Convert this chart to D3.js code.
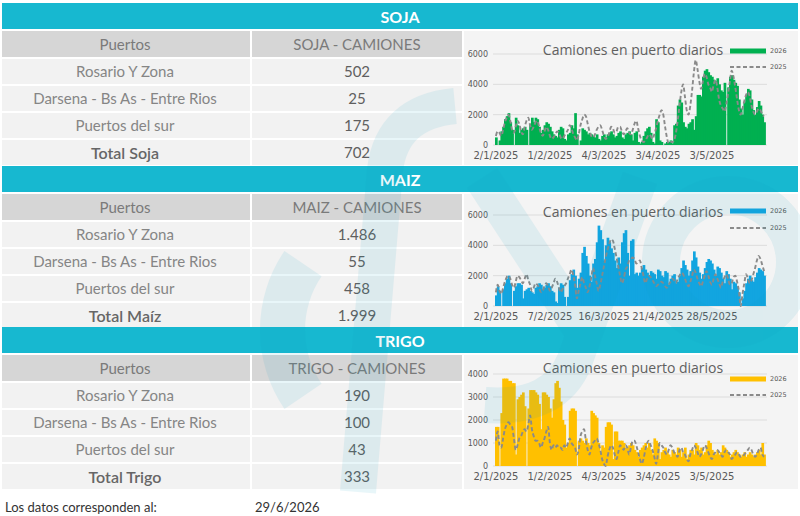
<!DOCTYPE html>
<html lang="es">
<head>
<meta charset="UTF-8">
<title>Camiones en puerto</title>
<script src="https://cdn.jsdelivr.net/npm/d3@7"></script>
<style>
  body { margin: 0; background: #fff; }
  .tbl { font-family: Lato, "Open Sans", sans-serif; }
  .axis text { font-family: "DejaVu Sans", sans-serif; fill: #595959; }
  .axis path, .axis line { display: none; }
</style>
</head>
<body>
<svg id="chart" width="800" height="516"></svg>
<script>
// ---- table data ----
const puertos = ["Rosario Y Zona", "Darsena - Bs As - Entre Rios", "Puertos del sur"];
const sojaCamiones = ["502", "25", "175"];
const maizCamiones = ["1.486", "55", "458"];
const trigoCamiones = ["190", "100", "43"];
const totales = ["702", "1.999", "333"];

// ---- axis tick labels (one every 30 categories) ----
const tickIdx = [0, 30, 60, 90, 120];
const sojaFechas = ["2/1/2025", "1/2/2025", "4/3/2025", "3/4/2025", "3/5/2025"];
const maizFechas = ["2/1/2025", "7/2/2025", "16/3/2025", "21/4/2025", "28/5/2025"];
const trigoFechas = ["2/1/2025", "1/2/2025", "4/3/2025", "3/4/2025", "3/5/2025"];

// ---- daily trucks ----
const soja2026 = [
  500,0,300,900,1200,1700,1900,2100,1500,1000,
  0,1800,1300,800,1000,1100,1200,1000,0,1400,
  1800,1500,1800,1700,1200,800,1000,1300,1500,1400,
  1200,900,700,600,500,1000,1200,1100,400,300,
  700,800,1300,1100,2100,700,0,300,1100,1000,
  900,700,800,700,600,500,700,400,300,600,
  700,500,700,800,900,700,500,600,800,900,
  500,400,700,800,900,700,300,800,900,200,
  100,200,600,900,1100,1200,800,200,100,1700,
  1500,300,200,0,100,200,200,300,100,1300,
  1400,2600,3000,2800,1500,1200,1100,1400,1500,1700,
  1000,1900,3300,3300,3200,4500,4900,5000,4800,4600,
  4500,4300,4200,4400,4000,3600,3500,4100,0,3800,
  4500,4600,4300,4100,3900,3000,2400,2000,2800,3300,
  3700,3600,3000,2300,2000,2500,2900,2600,2000,1500
];
const soja2025 = [
  600,900,800,600,1000,1500,1800,2000,1600,1000,
  800,1200,1600,1400,900,700,1200,1600,1800,1300,
  1000,1200,1500,1600,1200,800,600,900,1200,1000,
  600,400,500,700,900,800,500,400,600,800,
  1000,1300,1100,700,500,300,700,1300,1700,2000,
  1900,1400,900,600,500,700,1000,1200,1300,1000,
  600,400,500,800,1200,1100,800,900,1200,1200,
  900,700,900,1100,800,700,1000,1400,1600,1100,
  600,300,200,300,500,700,600,400,700,1100,
  1600,2000,2300,2000,1200,500,100,200,200,300,
  800,1600,2600,3500,4000,3200,2300,2000,2600,3600,
  4800,5600,5000,4200,3700,4200,4700,4500,4000,3800,
  3500,4000,4300,3800,3000,2600,2400,2200,2700,3400,
  4200,4900,4500,3800,3000,2300,2000,2400,2900,3300,
  3500,3200,2600,2200,2000,2200,2400,2300,2000,1900
];
const maiz2026 = [
  700,1300,1000,0,1100,1500,1800,2000,1500,0,
  1000,1300,1500,1500,1400,500,1000,1100,1200,1000,
  900,800,1200,1300,1500,1400,1100,1200,1400,1500,
  1300,1000,900,300,200,1200,1500,1400,600,0,
  600,1700,2100,2400,2000,1200,1800,2200,3500,3900,
  3300,2800,2000,1600,2800,3100,4200,5300,5000,4400,
  3000,4000,4500,4200,3800,3500,3000,2500,3200,2800,
  4200,4800,5000,3500,2000,4300,4400,2100,2200,2000,
  2200,2500,2700,2400,2200,2000,2300,2200,2100,1800,
  2400,2300,2000,1900,2300,2200,1400,1800,2000,2100,
  1500,1600,2000,2500,3000,2700,2400,2000,2300,3000,
  3600,3200,2600,2200,1800,2100,2500,2900,3100,3000,
  2800,2400,2000,2600,2500,2200,1800,1500,2300,2100,
  1800,1100,1600,1500,1300,900,0,500,1000,1500,
  1800,2000,1700,1600,1900,2200,2500,2400,2300,2000
];
const maiz2025 = [
  900,1400,1000,800,1200,1600,1900,2000,1800,1400,
  1200,1600,2000,1900,1700,1500,1800,2100,1700,1400,
  1000,1200,1500,1400,1200,900,1000,1300,1500,1300,
  1000,1200,1500,1800,1600,1200,900,1100,1300,1500,
  1800,2100,2400,2000,1400,500,1000,1500,1900,1500,
  1200,900,1300,1900,2500,2000,1500,1000,1400,2000,
  2600,3200,3700,4100,4400,4300,3800,3200,2600,2000,
  1500,1800,2400,2600,3000,3100,3200,3100,2800,2900,
  3000,2500,2000,1500,1800,2000,1900,1700,1500,1300,
  1400,1500,1600,1500,1300,1200,1400,1600,1800,1700,
  1500,1800,2000,2200,2100,1800,1500,1300,1600,2000,
  2400,2200,1800,1500,1300,1600,2000,2300,2000,1600,
  1400,1800,2100,1800,1500,1200,1600,1900,2100,1800,
  1400,1500,1900,2000,1600,1000,0,800,1500,2100,
  1800,1500,1700,2100,2500,3000,3300,3100,2700,2300
];
const trigo2026 = [
  1700,1700,0,2300,3800,3800,3800,3700,3700,3600,
  3600,500,2900,3000,3100,3200,2600,0,2500,3300,
  3300,3300,3200,3100,2700,1600,3200,3200,3100,3000,
  2500,2100,2900,3600,3700,3400,2800,2000,1800,800,
  1000,2400,2500,2500,2400,0,1100,1200,1100,1000,
  1200,1000,900,2400,2300,2200,2100,1000,600,900,
  800,1700,1900,1900,1800,300,1500,1500,1100,1100,
  1100,1000,800,800,900,1000,900,700,600,400,
  700,800,900,1000,800,1000,700,500,1200,1100,
  1000,300,600,700,800,600,500,400,700,600,
  500,800,700,400,600,800,300,500,700,700,
  500,1000,900,700,800,500,600,900,1100,1000,
  700,600,500,700,500,600,900,800,700,600,
  400,500,600,700,600,500,400,500,600,400,
  500,600,500,400,500,600,700,500,1000,500
];
const trigo2025 = [
  1100,1500,900,800,1200,1600,1800,1900,1800,1700,
  1200,700,900,1200,1300,1500,1600,1500,1800,2200,
  1600,1300,1100,1100,1000,800,1000,1200,1500,1700,
  1000,700,900,800,900,800,800,700,900,800,
  1000,1200,1000,900,800,500,700,1300,1500,1600,
  1100,700,500,800,1000,1100,1200,1000,700,300,
  100,0,400,700,900,800,500,300,600,900,
  800,700,900,800,500,800,1100,1100,900,600,
  300,100,300,700,1000,1100,900,700,400,100,
  500,1000,900,800,600,500,700,900,800,600,
  500,400,700,800,600,500,300,200,500,700,
  900,800,600,400,500,700,900,800,600,400,
  300,500,600,700,600,500,400,600,700,600,
  500,300,400,500,600,500,400,400,500,600,
  700,800,700,500,400,500,700,800,500,400
];

const cyan = "#17b8d0";

const sections = [
  { title: "SOJA", head: "SOJA - CAMIONES", total: "Total Soja", vals: sojaCamiones, tot: totales[0],
    top: 3, color: "#00b050", s26: soja2026, s25: soja2025, fechas: sojaFechas,
    yMax: 6000, yStep: 2000, yBottom: 145, yTop: 54, titleY: 50, leg26: 51, leg25: 67 },
  { title: "MAIZ", head: "MAIZ - CAMIONES", total: "Total Maíz", vals: maizCamiones, tot: totales[1],
    top: 166, color: "#12a5e0", s26: maiz2026, s25: maiz2025, fechas: maizFechas,
    yMax: 6000, yStep: 2000, yBottom: 306, yTop: 215, titleY: 212, leg26: 211, leg25: 228 },
  { title: "TRIGO", head: "TRIGO - CAMIONES", total: "Total Trigo", vals: trigoCamiones, tot: totales[2],
    top: 327, color: "#ffc000", s26: trigo2026, s25: trigo2025, fechas: trigoFechas,
    yMax: 4000, yStep: 1000, yBottom: 466, yTop: 374, titleY: 368, leg26: 379, leg25: 395 }
];

const svg = d3.select("#chart");
svg.append("rect").attr("width", 800).attr("height", 516).attr("fill", "#fff");

sections.forEach(s => {
  const g = svg.append("g");
  const t = s.top;

  // section banner
  g.append("rect").attr("x", 2).attr("y", t).attr("width", 796).attr("height", 26).attr("fill", cyan);
  g.append("text").attr("class", "tbl")
    .attr("x", 400).attr("y", t + 14).attr("dy", "0.35em")
    .attr("text-anchor", "middle").attr("fill", "#fff")
    .attr("font-size", 16).attr("font-weight", "bold")
    .text(s.title);

  // header row
  g.append("rect").attr("x", 2).attr("y", t + 28).attr("width", 248).attr("height", 26).attr("fill", "#d6d6d6");
  g.append("rect").attr("x", 252).attr("y", t + 28).attr("width", 210).attr("height", 26).attr("fill", "#d6d6d6");
  g.append("text").attr("class", "tbl").attr("x", 125).attr("y", t + 42).attr("dy", "0.35em")
    .attr("text-anchor", "middle").attr("fill", "#7a7a7a").attr("font-size", 15).text("Puertos");
  g.append("text").attr("class", "tbl").attr("x", 357).attr("y", t + 42).attr("dy", "0.35em")
    .attr("text-anchor", "middle").attr("fill", "#7a7a7a").attr("font-size", 15).text(s.head);

  // body rows
  const labels = puertos.concat([s.total]);
  const values = s.vals.concat([s.tot]);
  labels.forEach((lab, k) => {
    const ry = t + 56 + k * 27;
    const isTotal = k === labels.length - 1;
    g.append("rect").attr("x", 2).attr("y", ry).attr("width", 248).attr("height", 25).attr("fill", "#f2f2f2");
    g.append("rect").attr("x", 252).attr("y", ry).attr("width", 210).attr("height", 25).attr("fill", "#f2f2f2");
    g.append("text").attr("class", "tbl").attr("x", 125).attr("y", ry + 13).attr("dy", "0.35em")
      .attr("text-anchor", "middle")
      .attr("fill", isTotal ? "#666" : "#858585")
      .attr("font-size", isTotal ? 16 : 15)
      .attr("font-weight", isTotal ? 600 : "normal")
      .text(lab);
    g.append("text").attr("class", "tbl").attr("x", 357).attr("y", ry + 13).attr("dy", "0.35em")
      .attr("text-anchor", "middle").attr("fill", "#5f5f5f").attr("font-size", 15)
      .text(values[k]);
  });

  // chart panel
  g.append("rect").attr("x", 464).attr("y", t + 28).attr("width", 334).attr("height", 134).attr("fill", "#f4f4f4");

  const n = s.s26.length;
  const x = d3.scaleBand().domain(d3.range(n)).range([495, 765]).paddingInner(0);
  const y = d3.scaleLinear().domain([0, s.yMax]).range([s.yBottom, s.yTop]);
  const yTicks = d3.range(0, s.yMax + 1, s.yStep);

  // gridlines
  g.append("g").selectAll("line").data(yTicks).join("line")
    .attr("x1", 493).attr("x2", 767)
    .attr("y1", d => y(d)).attr("y2", d => y(d))
    .attr("stroke", "#dcdcdc").attr("stroke-width", 1);

  // bars 2026 (overlap so neighbouring bars read as a solid block, no seams)
  g.append("g").selectAll("rect").data(s.s26).join("rect")
    .attr("x", (d, i) => x(i)).attr("width", x.bandwidth() + 0.9)
    .attr("y", d => y(d)).attr("height", d => y(0) - y(d))
    .attr("fill", s.color);

  // dashed line 2025
  const line = d3.line()
    .x((d, i) => x(i) + x.bandwidth() / 2)
    .y(d => y(d))
    .curve(d3.curveMonotoneX);
  g.append("path").datum(s.s25)
    .attr("d", line).attr("fill", "none")
    .attr("stroke", "#8a8a8a").attr("stroke-width", 1.9)
    .attr("stroke-dasharray", "4,2.5");

  // axes
  g.append("g").attr("class", "axis")
    .attr("transform", "translate(495,0)")
    .call(d3.axisLeft(y).tickValues(yTicks).tickFormat(d3.format("d")).tickSize(0).tickPadding(7))
    .selectAll("text").attr("font-size", 8);

  g.append("g").attr("class", "axis")
    .attr("transform", `translate(0,${s.yBottom})`)
    .call(d3.axisBottom(x).tickValues(tickIdx).tickFormat((d, i) => s.fechas[i]).tickSize(0).tickPadding(7))
    .selectAll("text").attr("font-size", 10);

  // title
  g.append("text").attr("x", 633).attr("y", s.titleY).attr("dy", "0.35em")
    .attr("text-anchor", "middle").attr("fill", "#606060")
    .attr("font-family", "'Open Sans', sans-serif").attr("font-size", 14)
    .text("Camiones en puerto diarios");

  // legend
  g.append("rect").attr("x", 730).attr("y", s.leg26 - 2.5).attr("width", 36).attr("height", 5).attr("fill", s.color);
  g.append("text").attr("x", 770).attr("y", s.leg26).attr("dy", "0.35em")
    .attr("font-family", "'DejaVu Sans', sans-serif").attr("font-size", 6.5).attr("fill", "#595959").text("2026");
  g.append("line").attr("x1", 730).attr("x2", 766).attr("y1", s.leg25).attr("y2", s.leg25)
    .attr("stroke", "#8a8a8a").attr("stroke-width", 1.9).attr("stroke-dasharray", "4,2.5");
  g.append("text").attr("x", 770).attr("y", s.leg25).attr("dy", "0.35em")
    .attr("font-family", "'DejaVu Sans', sans-serif").attr("font-size", 6.5).attr("fill", "#595959").text("2025");
});

// footer
svg.append("text").attr("class", "tbl").attr("x", 5).attr("y", 507).attr("dy", "0.35em")
  .attr("font-size", 13).attr("fill", "#333").text("Los datos corresponden al:");
svg.append("text").attr("class", "tbl").attr("x", 255).attr("y", 507).attr("dy", "0.35em")
  .attr("font-size", 13).attr("fill", "#333").text("29/6/2026");

// faint logo watermark over the page
const wm = svg.append("g").attr("fill", "#0e9fc2").attr("stroke", "#0e9fc2")
  .attr("opacity", 0.09).style("pointer-events", "none");
wm.append("path")
  .attr("transform", "translate(400,330)")
  .attr("stroke", "none")
  .attr("d", d3.arc().innerRadius(95).outerRadius(140).startAngle(-Math.PI / 2 - 0.6).endAngle(-Math.PI / 2 + 0.6)());
wm.append("path").attr("fill", "none").attr("stroke-width", 36)
  .attr("d", "M358,492 L385,170 Q392,112 455,106");
wm.append("path").attr("fill", "none").attr("stroke-width", 36)
  .attr("d", "M482,178 L585,335");
wm.append("path").attr("fill", "none").attr("stroke-width", 36)
  .attr("d", "M640,178 L575,360 Q555,410 485,405");
wm.append("circle").attr("cx", 728).attr("cy", 262).attr("r", 67)
  .attr("fill", "none").attr("stroke-width", 38);
</script>
</body>
</html>
